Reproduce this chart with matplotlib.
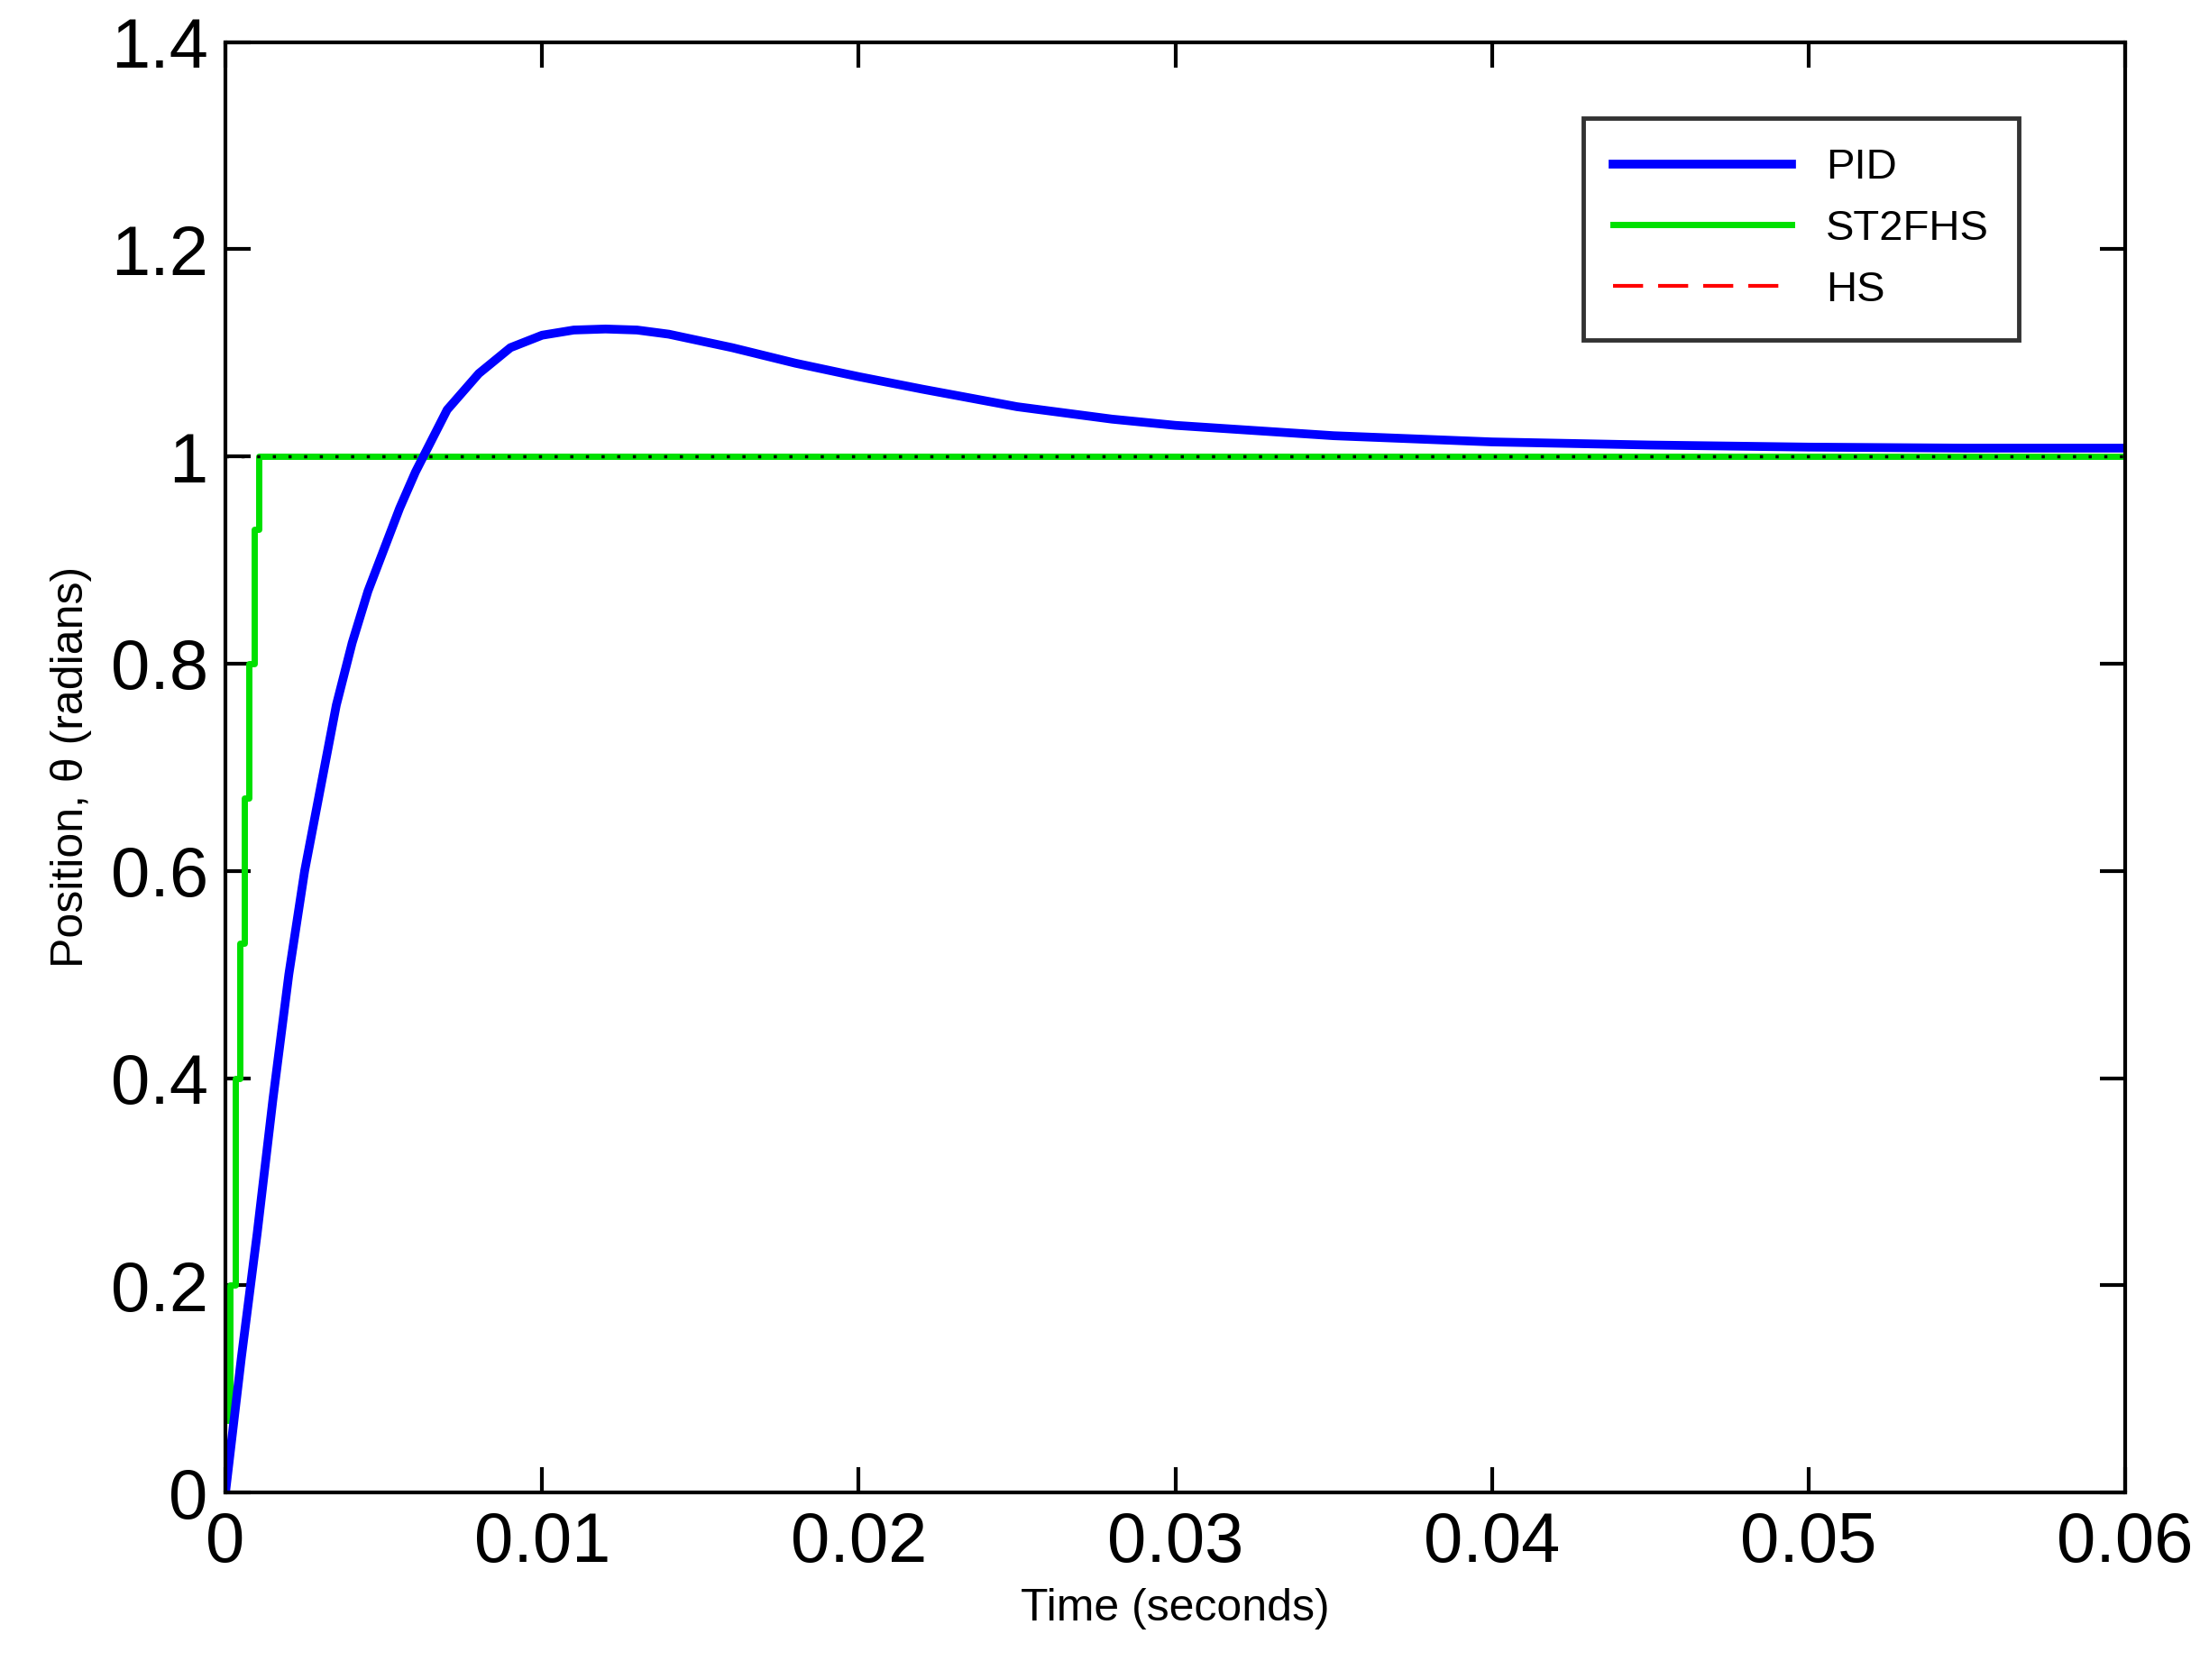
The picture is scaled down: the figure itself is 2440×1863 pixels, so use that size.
import matplotlib
matplotlib.use("Agg")
import matplotlib.pyplot as plt

t_pid = [0, 0.0005, 0.001, 0.0015, 0.002, 0.0025, 0.003, 0.0035, 0.004, 0.0045, 0.005, 0.0055, 0.006, 0.007, 0.008,
         0.009, 0.010, 0.011, 0.012, 0.013, 0.014, 0.016, 0.018, 0.020, 0.022, 0.025, 0.028, 0.030, 0.035, 0.040,
         0.045, 0.050, 0.055, 0.060]
y_pid = [0, 0.13, 0.25, 0.38, 0.50, 0.60, 0.68, 0.76, 0.82, 0.87, 0.91, 0.95, 0.985, 1.045, 1.08,
         1.105, 1.117, 1.122, 1.123, 1.122, 1.118, 1.105, 1.09, 1.077, 1.065, 1.048, 1.036, 1.030, 1.020, 1.014,
         1.011, 1.009, 1.008, 1.008]
t_st2 = [0, 0.00015, 0.0003, 0.00045, 0.0006, 0.00075, 0.0009, 0.00105, 0.06]
y_st2 = [0.07, 0.20, 0.40, 0.53, 0.67, 0.80, 0.93, 1.0, 1.0]
t_hs = t_st2
y_hs = y_st2
t_ref = [0, 0.06]
y_ref = [1.0, 1.0]

plt.rcParams['font.family'] = ['Liberation Sans', 'DejaVu Sans']
fig = plt.figure(figsize=(24.4, 18.63), dpi=100)
ax = fig.add_axes([0.1025, 0.1116, 0.8635, 0.8634])
ax.plot(t_hs, y_hs, color='red', lw=3, ls=(0, (8, 4)), drawstyle='steps-post', label='HS')
ax.plot(t_st2, y_st2, color='#00e000', lw=5, drawstyle='steps-post', label='ST2FHS')
ax.plot(t_ref, y_ref, color='black', lw=2.5, ls=(0, (1, 4)))
ax.plot(t_pid, y_pid, color='blue', lw=7, label='PID')
ax.set_xlim(0, 0.06)
ax.set_ylim(0, 1.4)
ax.set_xticks([0, 0.01, 0.02, 0.03, 0.04, 0.05, 0.06])
ax.set_xticklabels(['0', '0.01', '0.02', '0.03', '0.04', '0.05', '0.06'])
ax.set_yticks([0, 0.2, 0.4, 0.6, 0.8, 1.0, 1.2, 1.4])
ax.set_yticklabels(['0', '0.2', '0.4', '0.6', '0.8', '1', '1.2', '1.4'])
ax.tick_params(direction='in', length=20, width=3, labelsize=56, top=True, right=True, pad=14)
for s in ax.spines.values():
    s.set_linewidth(3)
ax.set_xlabel('Time (seconds)', fontsize=36, labelpad=10)
ax.set_ylabel('Position, θ (radians)', fontsize=36, labelpad=15)
h, l = ax.get_legend_handles_labels()
order = [2, 1, 0]
leg = ax.legend([h[i] for i in order], [l[i] for i in order], loc='upper right',
                bbox_to_anchor=(0.955, 0.962), fontsize=34, fancybox=False, edgecolor='black',
                handlelength=4.2, borderpad=0.7, labelspacing=0.5)
leg.get_frame().set_linewidth(3.5)
fig.savefig('out.png', dpi=100)
